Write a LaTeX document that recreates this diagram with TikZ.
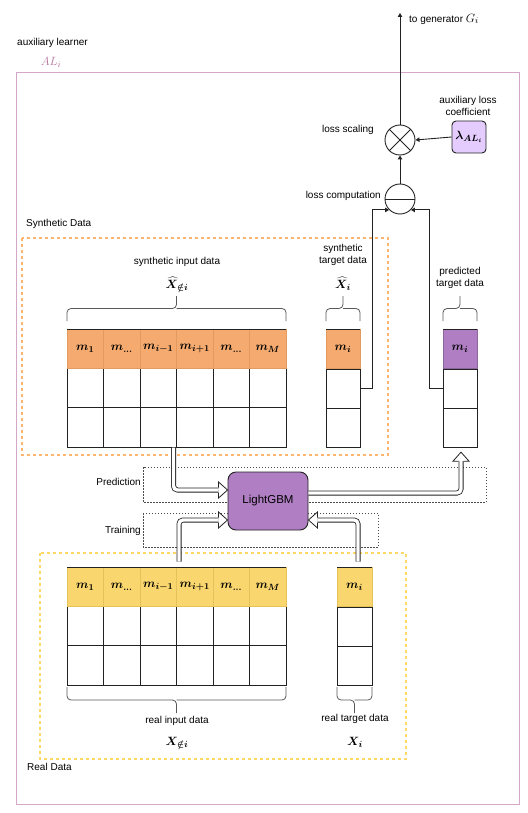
\documentclass[tikz,border=0pt]{standalone}
\usepackage[no-math]{fontspec}
\setmainfont{Liberation Sans}
\usepackage{bm}
\usetikzlibrary{arrows.meta,calc}
\definecolor{pinkb}{HTML}{D5A6C8}
\definecolor{pinkt}{HTML}{B5739D}
\definecolor{orgD}{HTML}{FFB570}
\definecolor{orgF}{HTML}{F5AB70}
\definecolor{orgL}{HTML}{E39A5E}
\definecolor{ylwD}{HTML}{FFD966}
\definecolor{ylwF}{HTML}{F9D66E}
\definecolor{ylwL}{HTML}{E5C25A}
\definecolor{purF}{HTML}{B07FC3}
\definecolor{lavF}{HTML}{E5CCFF}
\definecolor{ink}{HTML}{222222}
\newcommand{\hhead}[2]{\begin{scope}[shift={(#1)},rotate=#2]\filldraw[draw=ink,fill=white,line width=0.8pt,line join=miter] (-9,2.5) -- (-9,8) -- (0,0) -- (-9,-8) -- (-9,-2.5);\end{scope}}
\newcommand{\bracedown}[4]{\draw[brc] (#1,#3) -- (#1,{(#3+#4)/2}) -- ({(#1+#2)/2},{(#3+#4)/2}) -- ({(#1+#2)/2},#4); \draw[brc] (#2,#3) -- (#2,{(#3+#4)/2}) -- ({(#1+#2)/2},{(#3+#4)/2});}
\tikzset{
  lbl/.style={font=\fontsize{10}{11.5}\selectfont, inner sep=0pt, text=black},
  mth/.style={font=\fontsize{12.5}{14}\selectfont, inner sep=0pt},
  cell/.style={draw=ink, line width=0.9pt, minimum width=36.5pt, minimum height=39.33pt, inner sep=0pt, outer sep=0pt},
  tcell/.style={draw=ink, line width=0.9pt, minimum width=34pt, minimum height=39.33pt, inner sep=0pt, outer sep=0pt},
  hdrO/.style={cell, draw=orgL, line width=0.4pt, fill=orgF, font=\fontsize{12.5}{14}\selectfont},
  hdrY/.style={cell, draw=ylwL, line width=0.4pt, fill=ylwF, font=\fontsize{12.5}{14}\selectfont},
  brc/.style={draw=black!65, line width=0.8pt, rounded corners=4pt},
  conn/.style={draw=ink, line width=0.9pt, -{Triangle[length=4pt,width=4.5pt]}},
  hollow/.style={draw=ink, double=white, double distance=3.4pt, line width=0.8pt, rounded corners=4pt, line cap=butt},
  dotbox/.style={draw=black!70, line width=0.6pt, dash pattern=on 1.5pt off 1.5pt},
}
\begin{document}
\begin{tikzpicture}[x=1pt,y=-1pt]
\useasboundingbox (0,0) rectangle (527,813);
% outer learner frame
\draw[pinkb, line width=0.9pt] (16,72) rectangle (519,804);
\node[lbl, anchor=west] (auxl) at (17,43) {auxiliary learner};
\node[font=\fontsize{12.5}{14}\selectfont, text=pinkt, inner sep=0pt] (alname) at (51,62) {$AL_i$};
% data frames
\draw[orgD, line width=1.1pt, dash pattern=on 3pt off 3pt] (22,238) rectangle (388,455);
\node[lbl, anchor=west] (synlab) at (26,224) {Synthetic Data};
\draw[ylwD, line width=1.1pt, dash pattern=on 3pt off 3pt] (40,553) rectangle (406,759);
\node[lbl, anchor=west] (reallab) at (27,767) {Real Data};
% prediction / training boxes
\draw[dotbox] (143,467) rectangle (486,502);
\node[lbl, anchor=east] (predlab) at (141,482) {Prediction};
\draw[dotbox] (143,513) rectangle (378,547);
\node[lbl, anchor=east] (trainlab) at (141,531) {Training};
% ---------------- synthetic table
\foreach \c in {0,...,5}{
  \foreach \r in {1,2}{
    \node[cell] (s\r\c) at ({67+36.5*\c+18.25},{329+39.33*\r+19.67}) {};
  }
}
\foreach \c/\lab in {0/{m_1},1/{m_{\ldots}},2/{m_{i-1}},3/{m_{i+1}},4/{m_{\ldots}},5/{m_M}}{
  \node[hdrO] (s0\c) at ({67+36.5*\c+18.25},348.67) {$\bm{\lab}$};
}
\draw[ink, line width=1pt] (s00.north west) -- (s05.north east);
% synthetic target column
\node[tcell] (st1) at (343,388.67) {};
\node[tcell] (st2) at (343,428) {};
\node[hdrO, minimum width=34pt] (st0) at (343,348.67) {$\bm{m_i}$};
\draw[ink, line width=1pt] (st0.north west) -- (st0.north east);
% predicted target column
\node[tcell] (pt1) at (460,388.67) {};
\node[tcell] (pt2) at (460,428) {};
\node[cell, minimum width=34pt, draw=purF!80!black, line width=0.4pt, fill=purF, font=\fontsize{12.5}{14}\selectfont] (pt0) at (460,348.67) {$\bm{m_i}$};
\draw[ink, line width=1pt] (pt0.north west) -- (pt0.north east);
% braces above
\bracedown{67}{286}{321}{296}
\bracedown{326}{360}{321}{296}
\bracedown{443}{477}{321}{296}
\node[lbl] (sidl) at (177,262) {synthetic input data};
\node[mth, anchor=base] (sidm) at (177,288) {$\bm{\widehat{X}_{\notin i}}$};
\node[lbl, align=center] (stdl) at (343,255) {synthetic\\target data};
\node[mth, anchor=base] (stdm) at (343,288) {$\bm{\widehat{X}_i}$};
\node[lbl, align=center] (ptdl) at (460,278) {predicted\\target data};
% ---------------- real table
\foreach \c in {0,...,5}{
  \foreach \r in {1,2}{
    \node[cell] (r\r\c) at ({67+36.5*\c+18.25},{567+39.33*\r+19.67}) {};
  }
}
\foreach \c/\lab in {0/{m_1},1/{m_{\ldots}},2/{m_{i-1}},3/{m_{i+1}},4/{m_{\ldots}},5/{m_M}}{
  \node[hdrY] (r0\c) at ({67+36.5*\c+18.25},586.67) {$\bm{\lab}$};
}
\draw[ink, line width=1pt] (r00.north west) -- (r05.north east);
\node[tcell, minimum width=35pt] (rt1) at (354.5,626.67) {};
\node[tcell, minimum width=35pt] (rt2) at (354.5,666) {};
\node[hdrY, minimum width=35pt] (rt0) at (354.5,586.67) {$\bm{m_i}$};
\draw[ink, line width=1pt] (rt0.north west) -- (rt0.north east);
% braces below
\bracedown{67}{286}{687}{713}
\bracedown{337}{372}{687}{713}
\node[lbl] (ridl) at (177,721) {real input data};
\node[mth, anchor=base] (ridm) at (177,745) {$\bm{X_{\notin i}}$};
\node[lbl] (rtdl) at (355,719) {real target data};
\node[mth, anchor=base] (rtdm) at (355,745) {$\bm{X_i}$};
% ---------------- LightGBM
\node[draw=ink, line width=0.9pt, fill=purF, rounded corners=8pt, minimum width=80pt, minimum height=58pt, font=\fontsize{11.5}{13}\selectfont] (lgbm) at (268,501) {LightGBM};
% hollow arrows
\coordinate (a1s) at (173.5,447.5);
\coordinate (t1) at ($(lgbm.west)+(0,-11)$);
\draw[hollow] (a1s) |- ($(t1)+(-9,0)$);
\hhead{t1}{0}
\coordinate (a2s) at ($(lgbm.east)+(0,-8)$);
\coordinate (t2) at ($(pt2.south)+(1,4.5)$);
\draw[hollow] (a2s) -| ($(t2)+(0,9)$);
\hhead{t2}{90}
\coordinate (a3s) at (179,561.5);
\coordinate (t3) at ($(lgbm.west)+(0,19)$);
\draw[hollow] (a3s) |- ($(t3)+(-9,0)$);
\hhead{t3}{0}
\coordinate (a4s) at (358,561.5);
\coordinate (t4) at ($(lgbm.east)+(0,19)$);
\draw[hollow] (a4s) |- ($(t4)+(9,0)$);
\hhead{t4}{180}
% ---------------- loss part
\node[circle, draw=ink, line width=0.9pt, fill=white, minimum size=30pt, inner sep=0pt] (mult) at (400,140) {};
\draw[ink, line width=0.9pt] (mult.north east) -- (mult.south west) (mult.north west) -- (mult.south east);
\node[lbl, anchor=east] (multl) at (374,130) {loss scaling};
\node[circle, draw=ink, line width=0.9pt, fill=white, minimum size=30pt, inner sep=0pt] (lossc) at (400,199) {};
\draw[ink, line width=0.9pt] (lossc.west) -- (lossc.east);
\node[lbl, anchor=east] (lossl) at (381,196) {loss computation};
\node[draw=ink, line width=0.9pt, fill=lavF, rounded corners=4pt, minimum width=34pt, minimum height=32pt, inner sep=0pt, font=\fontsize{12.5}{14}\selectfont] (lam) at (469,137) {$\bm{\lambda_{AL_i}}$};
\node[lbl, align=center] (laml) at (468,106) {auxiliary loss\\coefficient};
\coordinate (gen) at (400,13);
\node[lbl, anchor=west] (genl) at (409,19) {to generator {\fontsize{12.5}{14}\selectfont$G_i$}};
\draw[conn] (mult.north) -- (gen);
\draw[conn] (lam.west) -- (mult.east);
\draw[conn] (lossc.north) -- (mult.south);
\draw[conn] (st1.east) -- ++(12,0) |- (lossc.south west);
\draw[conn] (pt1.west) -- ++(-14,0) |- (lossc.south east);
\end{tikzpicture}
\end{document}
